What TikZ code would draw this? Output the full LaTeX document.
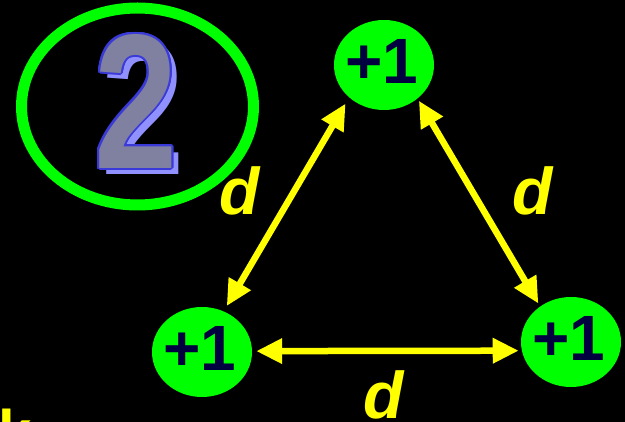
\documentclass[tikz,border=0pt]{standalone}
\usepackage{fontspec}
\setmainfont{Liberation Sans}
\usetikzlibrary{arrows.meta,shapes.geometric,calc}
\definecolor{grn}{HTML}{00FF00}
\definecolor{yel}{HTML}{FFFF00}
\definecolor{navy}{HTML}{000040}
\definecolor{twofill}{HTML}{8080A0}
\definecolor{twoline}{HTML}{3A3AD8}
\definecolor{twoshadow}{HTML}{9090FF}
\newcommand{\bigtwo}{\fontsize{192}{192}\selectfont\bfseries\scalebox{0.78}[1]{2}}
\tikzset{
  charge/.style={ellipse, fill=grn, draw=none, minimum width=100pt, minimum height=90pt, inner sep=0pt},
  chargetxt/.style={text=navy, inner sep=0pt, font=\fontsize{64}{64}\selectfont\bfseries},
  dlabel/.style={text=yel, inner sep=0pt, font=\fontsize{66}{66}\selectfont\bfseries\itshape},
  dist/.style={yel, line width=6.5pt, {Triangle[length=26pt,width=24pt]}-{Triangle[length=26pt,width=24pt]}},
  twolayer/.style={inner sep=0pt}
}
\begin{document}
\begin{tikzpicture}[x=1pt,y=-1pt]
\useasboundingbox (0,0) rectangle (625,422);
\fill[black] (0,0) rectangle (625,422);
\begin{scope}
\clip (0,0) rectangle (625,422);
% badge
\node[ellipse, draw=grn, line width=11pt, minimum width=232pt, minimum height=197pt, inner sep=0pt] (badge) at (137.5,106.5) {};
\node[twolayer, text=twoshadow] (twoshadow) at (143,107) {\bigtwo};
\foreach \a [count=\i] in {0,22.5,...,350}
  \node[twolayer, text=twoline] (twoedge\i) at ($(136,101)+(\a:2)$) {\bigtwo};
\node[twolayer, text=twofill] (two) at (136,101) {\bigtwo};
% charges
\node[charge] (top) at (384,65) {};
\node[charge] (bl) at (202,352) {};
\node[charge] (br) at (571,342) {};
\node[chargetxt] (toptxt) at ($(top)+(-2.5,-3.5)$) {+1};
\node[chargetxt] (bltxt) at ($(bl)+(-2.5,-3.5)$) {+1};
\node[chargetxt] (brtxt) at ($(br)+(-2.5,-3.5)$) {+1};
% distances
\draw[dist, shorten <=7pt, shorten >=6pt] (top.223.5) -- (bl.62.4);
\draw[dist, shorten <=2.5pt, shorten >=3.3pt] (top.315.8) -- (br.131);
\draw[dist, shorten <=4pt, shorten >=3pt] (bl.1) -- (br.190.9);
\node[dlabel] (d1) at (240,191) {d};
\node[dlabel] (d2) at (533,191) {d};
\node[dlabel] (d3) at (384,395) {d};
\node[text=yel, inner sep=0pt, anchor=base west, font=\fontsize{60}{60}\selectfont\bfseries] (k) at (-2,453) {k};
\end{scope}
\end{tikzpicture}
\end{document}
